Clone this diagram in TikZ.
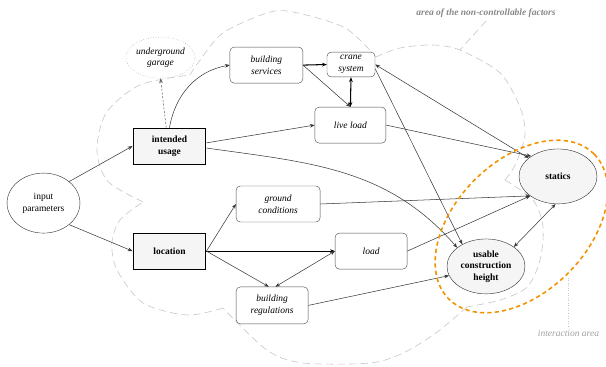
\documentclass[tikz,border=0pt]{standalone}
\usepackage{fontspec}
\setmainfont{Liberation Serif}
\usepackage{xcolor}
\usetikzlibrary{arrows.meta, shapes.geometric}

\definecolor{areaorange}{RGB}{243,146,0}
\definecolor{edgegray}{RGB}{55,55,55}
\definecolor{cloudgray}{RGB}{200,200,200}
\definecolor{labelgray}{RGB}{135,135,135}

\begin{document}
\begin{tikzpicture}[
        font=\rmfamily\fontsize{9}{11}\selectfont,
        >={Stealth[length=4.5pt,width=3.5pt]},
        mainbox/.style={draw=black, line width=1pt, fill=gray!8, minimum width=2.43cm, minimum height=1.2cm, align=center, font=\rmfamily\fontsize{9}{11}\selectfont\bfseries},
        factorbox/.style={draw=gray!60!black, rounded corners=4pt, fill=white, minimum width=2.43cm, minimum height=1.2cm, align=center, inner sep=0pt, font=\rmfamily\fontsize{9}{11}\selectfont\itshape},
        targetnode/.style={ellipse, draw=gray!40!black, fill=gray!8, minimum width=2.6cm, minimum height=1.83cm, align=center, inner sep=0pt, font=\rmfamily\fontsize{9}{11}\selectfont\bfseries},
        link/.style={->, draw=edgegray, line width=0.5pt},
        biglink/.style={->, draw=black, line width=1pt},
        cloudline/.style={draw=cloudgray, line width=0.6pt, dash pattern=on 7pt off 4pt},
    ]
        \useasboundingbox (0,0) rectangle (20.2,-12.233);

        % Area of the non-controllable factors
        \draw[cloudline] plot[smooth] coordinates {(4.77,-6.73) (3.6,-6.05) (3.23,-5.0) (3.55,-3.75) (4.67,-2.83) (6.33,-2.5)};
        \draw[cloudline] plot[smooth] coordinates {(6.33,-2.5) (6.67,-2.0) (7.43,-1.1) (8.9,-0.43) (9.77,-0.4) (11.5,-0.93) (12.53,-1.9)};
        \draw[cloudline] plot[smooth] coordinates {(12.53,-1.9) (13.33,-1.6) (14.43,-1.5) (15.33,-1.67) (16.67,-2.43) (17.33,-3.57) (17.5,-4.5) (17.17,-5.5) (16.83,-6.0)};
        \draw[cloudline] plot[smooth] coordinates {(16.83,-6.0) (17.77,-6.67) (18.1,-7.57) (18.0,-8.67) (17.57,-9.57) (16.67,-10.0) (15.57,-10.23)};
        \draw[cloudline] plot[smooth] coordinates {(15.57,-10.23) (14.53,-11.1) (13.43,-11.77) (12.33,-12.1) (10.1,-12.1) (8.9,-11.67) (7.43,-10.27)};
        \draw[cloudline] plot[smooth] coordinates {(7.43,-10.27) (6.23,-10.5) (4.77,-10.1) (3.9,-9.0) (3.73,-8.1) (4.0,-7.33) (4.77,-6.73)};

        % Nodes
        \node[ellipse, draw=gray!40!black, minimum width=2.43cm, minimum height=2cm, align=center, inner sep=0pt] (input) at (1.45,-6.77) {input\\parameters};
        \node[mainbox] (usage) at (5.65,-4.87) {intended\\usage};
        \node[mainbox] (location) at (5.65,-8.37) {location};
        \node[ellipse, draw=gray, dotted, minimum width=1.9cm, minimum height=1.37cm, align=center, inner sep=0pt, font=\rmfamily\fontsize{9}{11}\selectfont\itshape] (garage) at (5.35,-1.92) {underground\\garage};
        \node[factorbox] (services) at (8.88,-2.17) {building\\services};
        \node[factorbox, minimum width=1.6cm, minimum height=0.83cm] (crane) at (11.7,-2.15) {crane\\system};
        \node[factorbox, minimum width=2.37cm] (liveload) at (11.68,-4.17) {live load};
        \node[factorbox, minimum width=2.8cm] (ground) at (9.27,-6.8) {ground\\conditions};
        \node[factorbox, minimum width=2.4cm] (load) at (12.37,-8.37) {load};
        \node[factorbox, minimum width=2.4cm, minimum height=1.23cm] (regs) at (9.07,-10.18) {building\\regulations};
        \node[targetnode] (statics) at (18.6,-5.88) {statics};
        \node[targetnode] (usable) at (16.2,-8.88) {usable\\construction\\height};

        % Connections
        \draw[link] (input.40) -- (usage.west);
        \draw[link] (input.-40) -- (location.west);
        \draw[link, draw=gray!80!black, dash pattern=on 2pt off 1.5pt] (usage.100) -- (garage.south);
        \draw[link] (usage.north) to[out=80, in=190] (services.west);
        \draw[link] (usage.5) -- (liveload.west);
        \draw[link] (usage.-3) to[out=-8, in=131] (usable.147);
        \draw[biglink] (services.east) -- (crane.west);
        \draw[link] (services.east) -- (liveload.north);
        \draw[biglink, <->] (crane.south) -- (liveload.north);
        \draw[link, <->] (crane.east) -- (statics.148);
        \draw[link] (crane.-10) -- (usable.137);
        \draw[link] (liveload.east) -- (statics.143);
        \draw[link] (ground.east) -- (statics.215);
        \draw[link] (location.east) -- (ground.west);
        \draw[biglink] (location.east) -- (load.west);
        \draw[link] (location.east) -- (regs.100);
        \draw[link, <->] (load.west) -- (regs.80);
        \draw[link] (load.east) -- (statics.215);
        \draw[link, <->] (statics.265) -- (usable.35);
        \draw[link] (regs.east) -- (usable.194);

        % Interaction area
        \draw[areaorange, line width=1.5pt, dash pattern=on 4pt off 3pt, rotate around={45:(17.38,-7.55)}] (17.38,-7.55) ellipse (3.42cm and 2.2cm);

        % Labels
        \node[text=labelgray, font=\rmfamily\fontsize{9}{11}\selectfont\bfseries\itshape] (arealabel) at (16.2,-0.43) {area of the non-controllable factors};
        \coordinate (areatip) at (15.33,-1.67);
        \draw[cloudline] (arealabel.south) -- (areatip);
        \node[text=labelgray!80, font=\rmfamily\fontsize{9}{11}\selectfont\itshape] (interlabel) at (18.95,-11.1) {interaction area};
        \coordinate (intertip) at (18.95,-9.23);
        \draw[draw=cloudgray, dotted] (interlabel.north) -- (intertip);
    \end{tikzpicture}
\end{document}
